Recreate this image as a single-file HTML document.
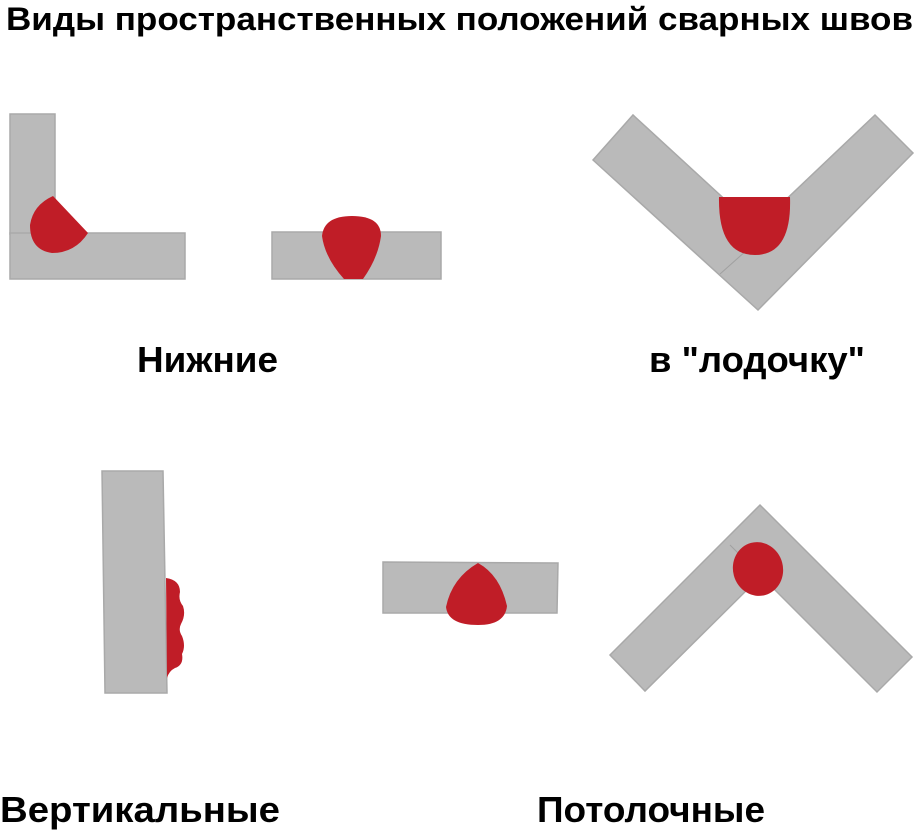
<!DOCTYPE html>
<html><head><meta charset="utf-8"><style>
html,body{margin:0;padding:0;background:#fff;width:920px;height:838px;overflow:hidden}
svg{display:block}
text{font-family:"Liberation Sans",Arial,sans-serif;font-weight:bold;fill:#000}
</style></head><body>
<svg width="920" height="838" viewBox="0 0 920 838">
<g fill="#bababa" stroke="#a9a9a9" stroke-width="1.5">
<rect x="10" y="114" width="45" height="120"/>
<rect x="10" y="233" width="175" height="46"/>
<rect x="272" y="232" width="169" height="47"/>
<polygon points="593,160 633,115 756,228 875,115 913,153 758,310"/>
<polygon points="102,471 163,471 167,693 105,693"/>
<polygon points="383,562 558,563 557,613 383,613"/>
<polygon points="760,505 912,657 877,692 761,576 645,691 610,655"/>
</g>
<g stroke="#a0a0a0" stroke-width="1" fill="none">
<line x1="720" y1="274" x2="747" y2="250"/>
<line x1="730" y1="545" x2="740" y2="555"/>
</g>
<g fill="#c01d27">
<path d="M53,196 L88,233 Q75,253 52,253 Q30,250 30,225 Q33,205 53,196 Z"/>
<path d="M352,216 Q381,216 381,236 Q378,258 363,279 L344,279 Q325,258 322,236 Q324,216 352,216 Z"/>
<path d="M719,197 L790,197 Q792,255 755,255 Q718,255 719,197 Z"/>
<path d="M166,578 Q180,580 180,592 Q178,600 183,606 Q186,615 181,624 Q178,630 182,636 Q186,646 182,654 Q184,665 175,668 Q169,671 167,678 Z"/>
<path d="M478,563 Q500,575 507,606 Q505,625 478,625 Q448,625 446,607 Q452,578 478,563 Z"/>
<ellipse cx="758" cy="569" rx="25" ry="27" transform="rotate(-15 758 569)"/>
</g>
<text x="6" y="30" font-size="32" textLength="907" lengthAdjust="spacingAndGlyphs">Виды пространственных положений сварных швов</text>
<text x="137" y="372" font-size="36" textLength="141" lengthAdjust="spacingAndGlyphs">Нижние</text>
<text x="649" y="372" font-size="36" textLength="216" lengthAdjust="spacingAndGlyphs">в "лодочку"</text>
<text x="0" y="822" font-size="36" textLength="280" lengthAdjust="spacingAndGlyphs">Вертикальные</text>
<text x="537" y="822" font-size="36" textLength="228" lengthAdjust="spacingAndGlyphs">Потолочные</text>
</svg>
</body></html>
